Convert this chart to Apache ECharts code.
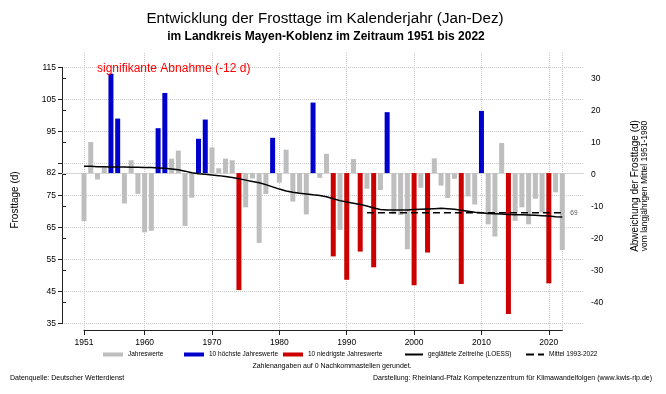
<!DOCTYPE html>
<html><head><meta charset="utf-8">
<script src="https://cdn.jsdelivr.net/npm/echarts@6/dist/echarts.min.js"></script>
<style>html,body{margin:0;padding:0;background:#fff}#c{width:666px;height:394px}</style>
</head><body><div id="c"></div>
<script>
const years = [1951,1952,1953,1954,1955,1956,1957,1958,1959,1960,1961,1962,1963,1964,1965,1966,1967,1968,1969,1970,
1971,1972,1973,1974,1975,1976,1977,1978,1979,1980,1981,1982,1983,1984,1985,1986,1987,1988,1989,1990,
1991,1992,1993,1994,1995,1996,1997,1998,1999,2000,2001,2002,2003,2004,2005,2006,2007,2008,2009,2010,
2011,2012,2013,2014,2015,2016,2017,2018,2019,2020,2021,2022];
const frostDays = [67,91.7,80,84,113,99,72.5,86,75.5,63.5,64,96,107,86.5,89,65.5,74.3,92.7,98.7,90,
83.5,86.5,86,45.5,71.3,80.3,60.2,75.5,93,79,89.3,73.1,75.5,69.1,104,80.5,88,56,64.3,48.7,
86.4,57.5,77.1,52.6,76.7,101,69.2,68.9,58.2,47,77.4,57.2,86.6,78.1,74.2,80.2,47.4,74.7,72.2,101.4,
66,62.2,91.4,38,67.1,71.3,66,74,69.7,47.6,76,58];
const loess = [84.1,84.1,84.0,84.0,83.9,83.9,83.9,83.8,83.8,83.75,83.7,83.6,83.5,83.3,83.0,82.6,82.1,81.8,81.6,81.4,
81.2,80.9,80.6,80.2,79.8,79.4,79.0,78.4,77.7,77.0,76.4,76.0,75.7,75.5,75.2,75.0,74.6,74.0,73.4,73.0,
72.6,72.2,71.7,71.1,70.6,70.5,70.5,70.5,70.5,70.6,70.7,70.8,70.9,71.0,70.9,70.7,70.4,70.1,69.8,69.6,
69.4,69.3,69.2,69.1,69.0,69.0,68.9,68.8,68.7,68.6,68.4,68.3];
const highYears = [1955,1956,1962,1963,1968,1969,1979,1985,1996,2010];
const lowYears = [1974,1988,1990,1992,1994,2000,2002,2007,2014,2020];
const refMean = 82;            // Mittel 1951-1980
const recentMean = 69.6;       // Mittel 1993-2022
const recentMeanLabel = '69';
const recentStart = 1993, recentEnd = 2022;
const hiddenLeftLabel = 85;
const xGridYears = [1951,1960,1970,1980,1990,2000,2010,2020,2022];

const FONT = "'Liberation Sans', Arial, sans-serif";
const grayPts = [], bluePts = [], redPts = [];
years.forEach((y, i) => {
  const p = [y, frostDays[i] - refMean];
  if (highYears.includes(y)) bluePts.push(p);
  else if (lowYears.includes(y)) redPts.push(p);
  else grayPts.push(p);
});
const loessPts = years.map((y, i) => [y, loess[i]]);
const meanPts = [[recentStart, recentMean], [recentEnd, recentMean]];

// layout: 1951 at x=84, 2022 at x=562.3
const pxPerYear = (562.3 - 84) / 71;
const xMin = 1951 - 22 / pxPerYear, xMax = 2022 + 21.7 / pxPerYear;
const gridStyle = {type: 'dotted', color: '#c8c8c8', width: 1};
const txt = {fontFamily: FONT, color: '#000'};
const axisCol = '#222';

const chart = echarts.init(document.getElementById('c'), null, {renderer: 'canvas'});
const legendBase = {padding: 0, itemHeight: 4, itemWidth: 20, orient: 'horizontal', top: 351,
  textStyle: {fontFamily: FONT, fontSize: 6.5, color: '#000'}, selectedMode: false};
chart.setOption({
  animation: false,
  backgroundColor: '#fff',
  grid: [
    {left: 62, width: 522, top: 67.3, height: 256.4},                       // 0 data / left axis
    {left: 62, width: 522, top: 53, height: 277},                           // 1 vertical grid
    {left: 84, width: 478.3, top: 320, height: 10},                         // 2 x axis line 1951-2022
    {left: 62, width: 522, top: 78.3, height: 224},                         // 3 right axis
    {left: 84 + 9 * pxPerYear, width: 60 * pxPerYear, top: 320, height: 10} // 4 decade ticks
  ],
  xAxis: [
    {gridIndex: 0, type: 'value', min: xMin, max: xMax, show: false},
    {gridIndex: 1, type: 'value', min: xMin, max: xMax, show: false},
    {gridIndex: 2, type: 'value', min: 1951, max: 2022, interval: 71, position: 'bottom',
      axisLine: {show: true, lineStyle: {color: axisCol, width: 1}},
      axisTick: {show: true, length: 5, lineStyle: {color: axisCol}},
      axisLabel: {show: true, fontSize: 8.5, margin: 8, ...txt, showMaxLabel: false,
        formatter: v => (v === 1951 ? String(v) : '')},
      splitLine: {show: false}},
    {gridIndex: 3, type: 'value', min: 0, max: 1, show: false},
    {gridIndex: 4, type: 'value', min: 1960, max: 2020, interval: 10, position: 'bottom',
      axisLine: {show: false},
      axisTick: {show: true, length: 5, lineStyle: {color: axisCol}},
      axisLabel: {show: true, fontSize: 8.5, margin: 8, ...txt, formatter: v => String(v)},
      splitLine: {show: false}}
  ],
  yAxis: [
    {gridIndex: 0, type: 'value', min: 35, max: 115, interval: 10, position: 'left',
      axisLine: {show: true, lineStyle: {color: axisCol, width: 1}},
      axisTick: {show: true, length: 4, lineStyle: {color: axisCol}},
      axisLabel: {show: true, fontSize: 8.5, margin: 6, ...txt,
        formatter: v => (v === hiddenLeftLabel ? '' : String(v))},
      splitLine: {show: true, lineStyle: gridStyle}},
    {gridIndex: 0, type: 'value', min: 35 - refMean, max: 115 - refMean, show: false},
    {gridIndex: 1, type: 'value', min: 0, max: 1, show: false},
    {gridIndex: 2, type: 'value', min: 0, max: 1, show: false},
    {gridIndex: 3, type: 'value', min: -40, max: 30, interval: 10, position: 'right',
      axisLine: {show: true, lineStyle: {color: axisCol, width: 1}},
      axisTick: {show: true, length: 4, lineStyle: {color: axisCol}},
      axisLabel: {show: true, fontSize: 8.5, margin: 7, ...txt},
      splitLine: {show: false}},
    {gridIndex: 0, type: 'value', min: 35, max: 115, interval: refMean - 35, position: 'left',
      axisLine: {show: false},
      axisTick: {show: true, length: 4, lineStyle: {color: axisCol}},
      axisLabel: {show: true, fontSize: 8.5, margin: 6, ...txt, showMaxLabel: false,
        formatter: v => (v === refMean ? String(v) : '')},
      splitLine: {show: false}},
    {gridIndex: 4, type: 'value', min: 0, max: 1, show: false}
  ],
  legend: [
    {...legendBase, left: 103, data: [{name: 'Jahreswerte', icon: 'rect'}]},
    {...legendBase, left: 184, data: [{name: '10 höchste Jahreswerte', icon: 'rect'}]},
    {...legendBase, left: 283, data: [{name: '10 niedrigste Jahreswerte', icon: 'rect'}]},
    {...legendBase, left: 405, itemWidth: 18, itemHeight: 2, data: [{name: 'geglättete Zeitreihe (LOESS)', icon: 'rect'}]},
    {...legendBase, left: 526, itemWidth: 18, itemHeight: 2, symbolKeepAspect: false,
      data: [{name: 'Mittel 1993-2022', icon: 'path://M0,0h8v2h-8zM12,0h6v2h-6z'}]}
  ],
  series: [
    {name: 'vgrid', type: 'line', xAxisIndex: 1, yAxisIndex: 2, data: [], silent: true, z: 0,
      markLine: {silent: true, symbol: 'none', label: {show: false}, animation: false, z: 0,
        lineStyle: gridStyle, data: xGridYears.map(y => ({xAxis: y}))}},
    {name: 'Jahreswerte', type: 'bar', xAxisIndex: 0, yAxisIndex: 1, data: grayPts,
      barWidth: 5, barGap: '-100%', itemStyle: {color: '#bebebe'}, z: 2,
      markLine: {silent: true, symbol: 'none', label: {show: false},
        lineStyle: {color: '#d6d6d6', type: 'solid', width: 1}, data: [{yAxis: 0}], z: 1}},
    {name: '10 höchste Jahreswerte', type: 'bar', xAxisIndex: 0, yAxisIndex: 1, data: bluePts,
      barWidth: 5, barGap: '-100%', itemStyle: {color: '#0000cd'}, z: 2},
    {name: '10 niedrigste Jahreswerte', type: 'bar', xAxisIndex: 0, yAxisIndex: 1, data: redPts,
      barWidth: 5, barGap: '-100%', itemStyle: {color: '#cd0000'}, z: 2},
    {name: 'geglättete Zeitreihe (LOESS)', type: 'line', xAxisIndex: 0, yAxisIndex: 0, data: loessPts,
      symbol: 'none', lineStyle: {color: '#000', width: 1.5}, itemStyle: {color: '#000'}, z: 5},
    {name: 'Mittel 1993-2022', type: 'line', xAxisIndex: 0, yAxisIndex: 0, data: meanPts,
      symbol: 'none', lineStyle: {color: '#000', width: 1.5, type: [7, 4]}, itemStyle: {color: '#000'}, z: 4,
      endLabel: {show: true, formatter: recentMeanLabel, fontSize: 6.5, color: '#555', fontFamily: FONT, distance: 8}}
  ],
  graphic: [
    {type: 'text', x: 325, y: 19, style: {text: 'Entwicklung der Frosttage im Kalenderjahr (Jan-Dez)',
      font: "15.2px " + FONT, fill: '#000', align: 'center', verticalAlign: 'middle'}},
    {type: 'text', x: 326, y: 37, style: {text: 'im Landkreis Mayen-Koblenz im Zeitraum 1951 bis 2022',
      font: "bold 12px " + FONT, fill: '#000', align: 'center', verticalAlign: 'middle'}},
    {type: 'text', x: 97, y: 69, z: 10, style: {text: 'signifikante Abnahme (-12 d)',
      font: "12px " + FONT, fill: '#ff0000', align: 'left', verticalAlign: 'middle'}},
    {type: 'text', x: 15, y: 200, rotation: Math.PI / 2, style: {text: 'Frosttage (d)',
      font: "10px " + FONT, fill: '#000', align: 'center', verticalAlign: 'middle'}},
    {type: 'text', x: 635, y: 186, rotation: Math.PI / 2, style: {text: 'Abweichung der Frosttage (d)',
      font: "10px " + FONT, fill: '#000', align: 'center', verticalAlign: 'middle'}},
    {type: 'text', x: 645, y: 186, rotation: Math.PI / 2, style: {text: 'vom langjährigen Mittel 1951-1980',
      font: "8.5px " + FONT, fill: '#000', align: 'center', verticalAlign: 'middle'}},
    {type: 'text', x: 332, y: 366, style: {text: 'Zahlenangaben auf 0 Nachkommastellen gerundet.',
      font: "7px " + FONT, fill: '#000', align: 'center', verticalAlign: 'middle'}},
    {type: 'text', x: 10, y: 378, style: {text: 'Datenquelle: Deutscher Wetterdienst',
      font: "7px " + FONT, fill: '#000', align: 'left', verticalAlign: 'middle'}},
    {type: 'text', x: 652, y: 378, style: {text: 'Darstellung: Rheinland-Pfalz Kompetenzzentrum für Klimawandelfolgen (www.kwis-rlp.de)',
      font: "7px " + FONT, fill: '#000', align: 'right', verticalAlign: 'middle'}}
  ]
});
</script></body></html>
